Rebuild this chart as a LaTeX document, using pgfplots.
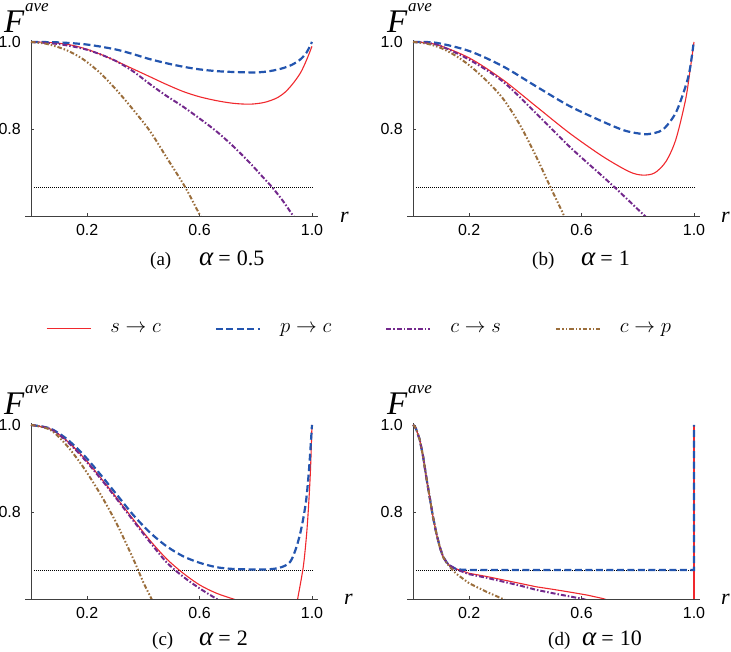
\documentclass[border=0pt]{standalone}
\usepackage{fontspec}
\setmainfont{Liberation Serif}
\setsansfont{Liberation Sans}
\usepackage{pgfplots}
\pgfplotsset{compat=1.18}

\definecolor{cred}{RGB}{240,40,45}
\definecolor{cblue}{RGB}{35,85,175}
\definecolor{cpurple}{RGB}{115,40,140}
\definecolor{cbrown}{RGB}{155,110,60}

\pgfplotsset{
  panel/.style={
    scale only axis, width=292.2pt, height=176.2pt,
    xmin=-0.02, xmax=1.02, ymin=0.6, ymax=1.005,
    axis x line=bottom, axis y line=middle,
    axis line style={-, draw=black!75, line width=0.7pt},
    xtick={0.2,0.6,1.0}, ytick={0.8,1.0},
    xticklabels={0.2,0.6,1.0}, yticklabels={0.8,1.0},
    tick align=inside, major tick length=3pt,
    tick style={draw=black!75, line width=0.6pt},
    ticklabel style={font=\fontsize{16}{16}\sffamily, inner sep=1pt},
    yticklabel style={xshift=-9pt},
    xticklabel style={yshift=-7pt},
    anchor=south west,
  },
  sc/.style={cred, line width=1.1pt},
  pc/.style={cblue, line width=2.2pt, dash pattern=on 7pt off 3.5pt},
  cs/.style={cpurple, line width=2pt, dash pattern=on 5pt off 2pt on 1.5pt off 2pt},
  cp/.style={cbrown, line width=2pt, dash pattern=on 4.5pt off 2pt on 1.5pt off 2pt on 1.5pt off 2pt},
  thr/.style={black, line width=0.6pt, dash pattern=on 0.7pt off 1.3pt},
  mylegimg/.style={legend image code/.code={\draw[##1] (0pt,0pt) -- (44pt,0pt);}},
}

\begin{document}
\begin{tikzpicture}
\useasboundingbox (0pt,0pt) rectangle (731pt,652pt);

% ---------------- (a) alpha = 0.5
\begin{axis}[panel, at={(25.4pt,436pt)},
  legend columns=4, mylegimg,
  legend style={at={(0.0705,-0.641)}, anchor=west, draw=none, fill=none,
    inner sep=0pt, font=\fontsize{20}{24}\selectfont,
    /tikz/every odd column/.append style={column sep=17pt},
    /tikz/every even column/.append style={column sep=52pt}}]
\addplot[thr, forget plot] coordinates {(0.01,0.6667) (1.0,0.6667)};
\addplot[sc, smooth] coordinates {(0,1) (0.05,0.9993) (0.1,0.997) (0.15,0.992) (0.2,0.983) (0.25,0.971) (0.293,0.959) (0.35,0.942) (0.4235,0.920) (0.48,0.903) (0.542,0.886) (0.6,0.874) (0.661,0.865) (0.72,0.859) (0.779,0.857) (0.83,0.861) (0.874,0.871) (0.905,0.885) (0.933,0.905) (0.96,0.93) (0.981,0.959) (1.0,0.99)};
\addlegendentry{$s\rightarrow c$}
\addplot[pc, smooth] coordinates {(0,1) (0.1,0.999) (0.2,0.994) (0.3,0.983) (0.364,0.972) (0.42,0.961) (0.483,0.951) (0.542,0.943) (0.6,0.937) (0.66,0.933) (0.72,0.931) (0.8,0.930) (0.85,0.933) (0.898,0.940) (0.93,0.948) (0.957,0.959) (0.98,0.975) (1.0,1.0)};
\addlegendentry{$p\rightarrow c$}
\addplot[cs, smooth] coordinates {(0,1) (0.1,0.995) (0.2,0.982) (0.293,0.959) (0.36,0.934) (0.4235,0.903) (0.48,0.877) (0.542,0.851) (0.6,0.824) (0.661,0.794) (0.72,0.760) (0.779,0.722) (0.82,0.693) (0.857,0.667) (0.895,0.636) (0.928,0.605) (0.94,0.594)};
\addlegendentry{$c\rightarrow s$}
\addplot[cp, smooth] coordinates {(0,1) (0.06,0.995) (0.127,0.981) (0.186,0.96) (0.2456,0.929) (0.305,0.889) (0.364,0.844) (0.4235,0.795) (0.483,0.734) (0.548,0.667) (0.601,0.602) (0.61,0.59)};
\addlegendentry{$c\rightarrow p$}
\end{axis}

% ---------------- (b) alpha = 1
\begin{axis}[panel, at={(407.4pt,436pt)}]
\addplot[thr] coordinates {(0.01,0.6667) (1.0,0.6667)};
\addplot[sc, smooth] coordinates {(0,1) (0.083,0.994) (0.201,0.963) (0.32,0.913) (0.438,0.852) (0.556,0.791) (0.675,0.737) (0.769,0.702) (0.817,0.694) (0.86,0.699) (0.9,0.725) (0.935,0.775) (0.97,0.867) (0.988,0.944) (1.0,1.0)};
\addplot[pc, smooth] coordinates {(0,1) (0.083,0.998) (0.201,0.979) (0.32,0.944) (0.438,0.898) (0.556,0.853) (0.675,0.817) (0.75,0.797) (0.8,0.790) (0.835,0.788) (0.888,0.798) (0.935,0.837) (0.97,0.898) (0.985,0.936) (0.998,0.994)};
\addplot[cs, smooth] coordinates {(0,1) (0.083,0.994) (0.201,0.959) (0.32,0.909) (0.438,0.836) (0.556,0.760) (0.675,0.691) (0.716,0.667) (0.822,0.602) (0.83,0.597)};
\addplot[cp, smooth] coordinates {(0,1) (0.05,0.996) (0.1,0.986) (0.15,0.969) (0.201,0.946) (0.26,0.912) (0.32,0.870) (0.38,0.81) (0.438,0.737) (0.485,0.672) (0.538,0.60) (0.545,0.59)};
\end{axis}

% ---------------- (c) alpha = 2
\begin{axis}[panel, at={(25.4pt,53pt)}]
\addplot[thr] coordinates {(0.01,0.6667) (1.0,0.6667)};
\addplot[sc, smooth] coordinates {(0,1) (0.068,0.991) (0.127,0.964) (0.186,0.926) (0.246,0.88) (0.305,0.832) (0.364,0.783) (0.423,0.735) (0.483,0.692) (0.542,0.659) (0.601,0.632) (0.661,0.613) (0.72,0.6) (0.75,0.594)};
\addplot[sc, smooth] coordinates {(0.94,0.565) (0.949,0.6) (0.969,0.674) (0.981,0.75) (0.989,0.826) (0.995,0.902) (1.0,1.0)};
\addplot[pc, smooth] coordinates {(0,1) (0.068,0.992) (0.127,0.968) (0.186,0.932) (0.246,0.887) (0.305,0.840) (0.364,0.793) (0.423,0.753) (0.483,0.721) (0.542,0.698) (0.601,0.683) (0.661,0.673) (0.72,0.669) (0.78,0.668) (0.839,0.668) (0.886,0.672) (0.922,0.685) (0.945,0.72) (0.963,0.765) (0.979,0.826) (0.99,0.902) (1.0,1.0)};
\addplot[cs, smooth] coordinates {(0,1) (0.068,0.991) (0.127,0.963) (0.186,0.924) (0.246,0.878) (0.305,0.830) (0.364,0.780) (0.423,0.731) (0.483,0.684) (0.542,0.651) (0.601,0.624) (0.661,0.6) (0.68,0.593)};
\addplot[cp, smooth] coordinates {(0,1) (0.068,0.989) (0.127,0.953) (0.186,0.903) (0.246,0.842) (0.305,0.773) (0.364,0.692) (0.40,0.638) (0.429,0.6) (0.44,0.585)};
\end{axis}

% ---------------- (d) alpha = 10
\begin{axis}[panel, at={(407.4pt,53pt)}]
\addplot[thr] coordinates {(0.01,0.6667) (1.0,0.6667)};
\addplot[sc] coordinates {(0,1) (0.006,0.997) (0.012,0.989) (0.024,0.966) (0.036,0.927) (0.047,0.881) (0.059,0.835) (0.071,0.789) (0.083,0.751) (0.095,0.720) (0.107,0.697) (0.12,0.684) (0.13,0.677) (0.154,0.669) (0.2,0.659) (0.26,0.652) (0.32,0.644) (0.38,0.636) (0.439,0.628) (0.5,0.622) (0.557,0.616) (0.62,0.609) (0.676,0.601) (0.69,0.598)};
\addplot[sc] coordinates {(1,0.55) (1,1.0)};
\addplot[pc] coordinates {(0,1) (0.006,0.997) (0.012,0.989) (0.024,0.966) (0.036,0.927) (0.047,0.881) (0.059,0.835) (0.071,0.789) (0.083,0.751) (0.095,0.720) (0.107,0.697) (0.12,0.684) (0.13,0.677) (0.15,0.670) (0.17,0.6675) (0.2,0.6667) (1.0,0.6667) (1.0,1.0)};
\addplot[cs] coordinates {(0,1) (0.006,0.997) (0.012,0.989) (0.024,0.966) (0.036,0.927) (0.047,0.881) (0.059,0.835) (0.071,0.789) (0.083,0.751) (0.095,0.720) (0.107,0.697) (0.12,0.684) (0.13,0.677) (0.154,0.668) (0.2,0.657) (0.26,0.649) (0.32,0.640) (0.38,0.631) (0.439,0.621) (0.5,0.613) (0.557,0.606) (0.605,0.6) (0.62,0.597)};
\addplot[cp] coordinates {(0,1) (0.006,0.997) (0.012,0.989) (0.024,0.966) (0.036,0.927) (0.047,0.881) (0.059,0.835) (0.071,0.789) (0.083,0.751) (0.095,0.720) (0.107,0.697) (0.118,0.684) (0.136,0.670) (0.154,0.658) (0.2,0.636) (0.26,0.617) (0.32,0.6) (0.33,0.597)};
\end{axis}

% ---------------- labels
\tikzset{lab/.style={anchor=base west, inner sep=0pt}}
\foreach \x/\y in {4/619, 387/619, 4/237, 387/237}{
  \node[lab, font=\fontsize{33}{33}\selectfont\itshape] at (\x pt,\y pt) {F};
  \node[lab, font=\fontsize{17}{17}\selectfont\itshape] at (\x pt+21pt,\y pt+21pt) {ave};
}
\foreach \x/\y in {340/429, 721/429, 344/47, 721/47}{
  \node[lab, font=\fontsize{22}{22}\selectfont\itshape] at (\x pt,\y pt) {r};
}
\node[lab, font=\fontsize{19}{19}\selectfont] at (150pt,386pt) {(a)};
\node[lab, font=\fontsize{22}{22}\selectfont] at (199pt,386pt) {{\fontsize{27}{27}\selectfont\itshape α}\hspace{5pt}=\hspace{6pt}0.5};
\node[lab, font=\fontsize{19}{19}\selectfont] at (532pt,386pt) {(b)};
\node[lab, font=\fontsize{22}{22}\selectfont] at (581pt,386pt) {{\fontsize{27}{27}\selectfont\itshape α}\hspace{5pt}=\hspace{6pt}1};
\node[lab, font=\fontsize{19}{19}\selectfont] at (152pt,6pt) {(c)};
\node[lab, font=\fontsize{22}{22}\selectfont] at (199pt,6pt) {{\fontsize{27}{27}\selectfont\itshape α}\hspace{5pt}=\hspace{6pt}2};
\node[lab, font=\fontsize{19}{19}\selectfont] at (548pt,6pt) {(d)};
\node[lab, font=\fontsize{22}{22}\selectfont] at (582pt,6pt) {{\fontsize{27}{27}\selectfont\itshape α}\hspace{5pt}=\hspace{6pt}10};
\end{tikzpicture}
\end{document}
